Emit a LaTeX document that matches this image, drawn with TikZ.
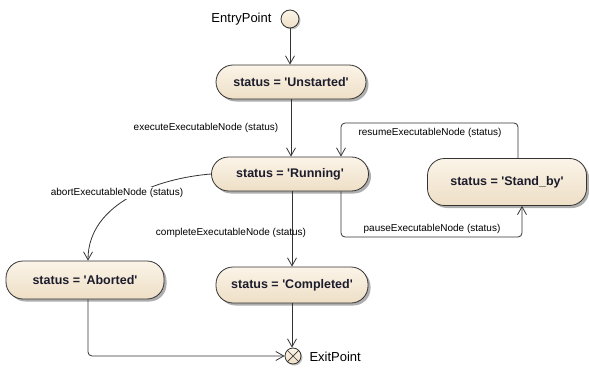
\documentclass[tikz,border=0pt]{standalone}
\usepackage{fontspec}
\setmainfont{Liberation Sans}
\usetikzlibrary{arrows.meta,shadows,calc}

\definecolor{stateTop}{HTML}{FBF4E8}
\definecolor{stateBot}{HTML}{EEDFC6}
\definecolor{lineCol}{HTML}{333333}
\definecolor{textCol}{HTML}{1C1C2C}

% straight single quote
\newcommand{\sq}{\textquotesingle}

\tikzset{
  state/.style={draw=lineCol, line width=0.8pt, rounded corners=17pt,
    top color=stateTop, bottom color=stateBot, text=textCol,
    font=\bfseries\fontsize{12.5}{14}\selectfont, inner sep=0pt,
    drop shadow={shadow xshift=2.5pt, shadow yshift=-2.5pt, fill=black!45, opacity=0.7}},
  pseudo/.style={circle, draw=lineCol, line width=0.8pt, minimum size=18pt, inner sep=0pt,
    top color=stateTop, bottom color=stateBot,
    drop shadow={shadow xshift=1.5pt, shadow yshift=-1.5pt, fill=black!40, opacity=0.6}},
  conn/.style={draw=lineCol, line width=0.8pt, -{Straight Barb[length=8pt,width=9pt]}},
  trlabel/.style={font=\fontsize{10}{12}\selectfont, text=black, inner sep=1pt},
  ptlabel/.style={font=\fontsize{13}{15}\selectfont, text=black}
}

\begin{document}
\begin{tikzpicture}[x=1pt,y=-1pt]
  \useasboundingbox (0,0) rectangle (589,369);

  % pseudo states
  \node[pseudo] (entry) at (290,19) {};
  \node[pseudo, minimum size=16pt] (exit) at (293,356) {};
  \draw[lineCol, line width=0.7pt] (exit.north west) -- (exit.south east)
                                   (exit.north east) -- (exit.south west);
  \node[ptlabel, anchor=east] (entrylbl) at (275,19) {EntryPoint};
  \node[ptlabel, anchor=west] (exitlbl) at (306,357) {ExitPoint};

  % states
  \node[state, minimum width=150pt, minimum height=34pt] (unst) at (291,82) {status = \sq Unstarted\sq};
  \node[state, minimum width=157pt, minimum height=34pt] (run)  at (290,174) {status = \sq Running\sq};
  \node[state, minimum width=159pt, minimum height=47pt] (stand) at (507,182) {status = \sq Stand\_by\sq};
  \node[state, minimum width=158pt, minimum height=38pt] (abort) at (85,280) {status = \sq Aborted\sq};
  \node[state, minimum width=152pt, minimum height=36pt] (comp) at (292,285) {status = \sq Completed\sq};

  % transitions
  \draw[conn] (entry) -- (entry |- unst.north);
  \draw[conn] (unst.south) -- (unst.south |- run.north);
  \draw[conn] (run.south -| comp.north) -- (comp.north);
  \draw[conn] (comp.south) -- (comp.south |- exit.north);

  \coordinate (pauseA) at ([xshift=51pt]run.south);
  \coordinate (pauseB) at ([xshift=15pt]stand.south);
  \draw[conn, rounded corners=4pt] (pauseA) -- (pauseA |- 0,237) -- (pauseB |- 0,237) -- (pauseB);

  \coordinate (resA) at ([xshift=11pt]stand.north);
  \coordinate (resB) at ([xshift=51pt]run.north);
  \draw[conn, rounded corners=4pt] (resA) -- (resA |- 0,123) -- (resB |- 0,123) -- (resB);

  \coordinate (abortIn) at ([xshift=3pt]abort.north);
  \draw[conn] (run.west) .. controls (160,178) and (88,202) .. (abortIn);

  \coordinate (abortOut) at ([xshift=3pt]abort.south);
  \draw[conn, rounded corners=4pt] (abortOut) -- (abortOut |- exit) -- (exit.west);

  % transition labels
  \node[trlabel] (lexec) at (206,128) {executeExecutableNode (status)};
  \node[trlabel] (lcomp) at (231,233) {completeExecutableNode (status)};
  \node[trlabel] (lres) at (430,133) {resumeExecutableNode (status)};
  \node[trlabel] (lpause) at (432,229) {pauseExecutableNode (status)};
  \node[trlabel, fill=white] (labort) at (117,193) {abortExecutableNode (status)};
\end{tikzpicture}
\end{document}
